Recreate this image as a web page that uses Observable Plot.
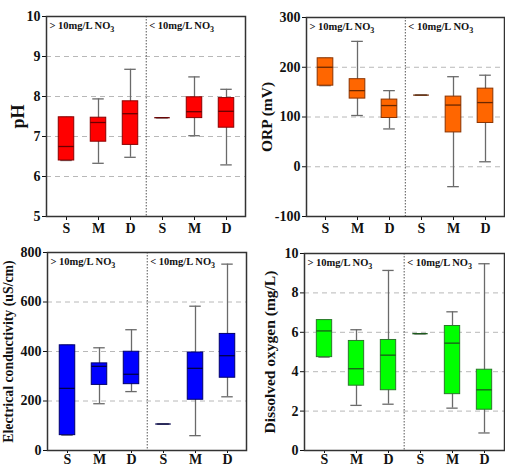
<!DOCTYPE html>
<html><head><meta charset="utf-8">
<script src="https://cdn.jsdelivr.net/npm/d3@7"></script>
<script src="https://cdn.jsdelivr.net/npm/@observablehq/plot@0.6"></script>
<style>
body{margin:0;background:#fff;}
#fig{position:relative;width:505px;height:467px;overflow:hidden;background:#fff;}
#fig > div{position:absolute;}
</style></head><body><div id="fig"></div>
<script>
// Categories: sampling depth (S, M, D) within two nitrate groups
const cats = ["S", "M", "D", "S", "M", "D"];
const groups = ["hi", "hi", "hi", "lo", "lo", "lo"];
const groupLabels = ["> 10mg/L NO3", "< 10mg/L NO3"];

// pH box statistics
const phMin = [6.40, 6.33, 6.48, 7.47, 7.02, 6.29];
const phQ1  = [6.40, 6.87, 6.79, 7.47, 7.46, 7.22];
const phMed = [6.75, 7.35, 7.57, 7.47, 7.62, 7.63];
const phQ3  = [7.48, 7.47, 7.88, 7.47, 7.98, 7.96];
const phMax = [7.48, 7.94, 8.68, 7.47, 8.49, 8.18];
const phTicks = [5, 6, 7, 8, 9, 10];
const phGrid = [6, 7, 8, 9];

// ORP (mV)
const orpMin = [163, 103, 76, 144, -40, 10];
const orpQ1  = [163, 137, 98, 144, 69, 88];
const orpMed = [200, 153, 123, 144, 124, 129];
const orpQ3  = [218, 176, 135, 144, 141, 157];
const orpMax = [218, 252, 153, 144, 181, 184];
const orpTicks = [-100, 0, 100, 200, 300];
const orpGrid = [0, 100, 200];

// Electrical conductivity (uS/cm)
const ecMin = [62, 189, 238, 107, 60, 217];
const ecQ1  = [62, 265, 268, 107, 205, 294];
const ecMed = [251, 340, 308, 107, 332, 383];
const ecQ3  = [425, 352, 399, 107, 396, 471];
const ecMax = [425, 415, 488, 107, 583, 753];
const ecTicks = [0, 200, 400, 600, 800];
const ecGrid = [200, 400, 600];

// Dissolved oxygen (mg/L)
const doMin = [4.74, 2.29, 2.35, 5.93, 2.15, 0.89];
const doQ1  = [4.74, 3.29, 3.06, 5.93, 2.86, 2.07];
const doMed = [6.07, 4.15, 4.84, 5.93, 5.45, 3.08];
const doQ3  = [6.62, 5.56, 5.61, 5.93, 6.32, 4.10];
const doMax = [6.62, 6.13, 9.14, 5.93, 7.04, 9.48];
const doTicks = [0, 2, 4, 6, 8, 10];
const doGrid = [2, 4, 6, 8];

const FONT = '"Liberation Serif","Times New Roman",serif';

function panel(o) {
  const keys = cats.map((c, i) => c + groups[i]);
  const rows = keys.map((k, i) => ({k, min: o.s[0][i], q1: o.s[1][i], med: o.s[2][i], q3: o.s[3][i], max: o.s[4][i]}));
  const po = 0.06;
  const step = (o.width - o.mL - o.mR) / (6 + 2 * po);
  const boxInset = (step - 16) / 2;
  const capInset = (step - 12) / 2;
  const whisk = {stroke: "#6a6a6a", strokeWidth: 1.3};
  const chart = Plot.plot({
    width: o.width, height: o.height,
    marginLeft: o.mL, marginRight: o.mR, marginTop: o.mT, marginBottom: o.mB,
    style: {fontFamily: FONT, fontWeight: "bold", fontSize: "14px", background: "transparent", color: "#111", overflow: "visible"},
    x: {type: "band", domain: keys, paddingInner: 0, paddingOuter: po, tickFormat: d => d[0], tickSize: o.xTick, tickPadding: o.xPad, label: null},
    y: {domain: o.domain, ticks: o.ticks, tickFormat: d => String(d), tickSize: 4, tickPadding: 2, label: null},
    marks: [
      Plot.ruleY(o.grid, {stroke: "#b8b8b8", strokeDasharray: "5,4"}),
      Plot.ruleX([keys[3]], {dx: -step / 2, stroke: "#555", strokeDasharray: "1.5,1.5"}),
      Plot.ruleX(rows, {x: "k", y1: "min", y2: "max", ...whisk}),
      Plot.tickY(rows, {x: "k", y: "min", insetLeft: capInset, insetRight: capInset, ...whisk}),
      Plot.tickY(rows, {x: "k", y: "max", insetLeft: capInset, insetRight: capInset, ...whisk}),
      Plot.barY(rows, {x: "k", y1: "q1", y2: "q3", fill: o.fill, stroke: o.stroke, strokeWidth: 1, insetLeft: boxInset, insetRight: boxInset}),
      Plot.tickY(rows, {x: "k", y: "med", stroke: o.median, strokeWidth: 1.3, insetLeft: boxInset, insetRight: boxInset}),
      Plot.text([groupLabels[0]], {frameAnchor: "top-left", textAnchor: "start", lineAnchor: "top", dx: 3, dy: 5, fontSize: 10.5, fill: "#111"}),
      Plot.text([groupLabels[1]], {x: () => keys[3], frameAnchor: "top", textAnchor: "start", lineAnchor: "top", dx: -step / 2 + 3, dy: 5, fontSize: 10.5, fill: "#111"}),
      Plot.text([o.label], {frameAnchor: "left", dx: o.labelDx, rotate: -90, textAnchor: "middle", lineAnchor: "middle", fontSize: o.labelSize, fill: "#111"}),
      Plot.frame({stroke: "#333", strokeWidth: 1.5})
    ]
  });
  // subscript the 3 in NO3
  d3.select(chart).selectAll("text").each(function () {
    const s = this.textContent;
    if (s.endsWith("NO3") && this.childElementCount === 0) {
      this.textContent = s.slice(0, -1);
      d3.select(this).append("tspan").attr("dy", "3").attr("font-size", "8").text("3");
    }
  });
  const div = document.createElement("div");
  div.style.left = o.left + "px";
  div.style.top = o.top + "px";
  div.appendChild(chart);
  document.getElementById("fig").appendChild(div);
}

panel({left: 0, top: 0, width: 250, height: 235, mL: 46, mR: 5, mT: 16, mB: 19, xTick: 4, xPad: 3,
  domain: [5, 10], ticks: phTicks, grid: phGrid, s: [phMin, phQ1, phMed, phQ3, phMax],
  fill: "#ff0000", stroke: "#8a0000", median: "#6a0000", label: "pH", labelSize: 18, labelDx: -28});

panel({left: 250, top: 0, width: 255, height: 235, mL: 56, mR: 1, mT: 17, mB: 19, xTick: 4, xPad: 3,
  domain: [-100, 300], ticks: orpTicks, grid: orpGrid, s: [orpMin, orpQ1, orpMed, orpQ3, orpMax],
  fill: "#ff6600", stroke: "#8a3300", median: "#6a2800", label: "ORP (mV)", labelSize: 15.5, labelDx: -39});

panel({left: 0, top: 235, width: 250, height: 232, mL: 47, mR: 4, mT: 17, mB: 17, xTick: 3, xPad: 1,
  domain: [0, 800], ticks: ecTicks, grid: ecGrid, s: [ecMin, ecQ1, ecMed, ecQ3, ecMax],
  fill: "#0000ff", stroke: "#00006a", median: "#00004a", label: "Electrical conductivity (uS/cm)", labelSize: 13.8, labelDx: -38.5});

panel({left: 250, top: 235, width: 255, height: 232, mL: 54, mR: 1, mT: 18, mB: 17, xTick: 3, xPad: 1,
  domain: [0, 10], ticks: doTicks, grid: doGrid, s: [doMin, doQ1, doMed, doQ3, doMax],
  fill: "#00ff00", stroke: "#2a7a2a", median: "#1a5a1a", label: "Dissolved oxygen (mg/L)", labelSize: 15.5, labelDx: -34});
</script>
</body></html>
